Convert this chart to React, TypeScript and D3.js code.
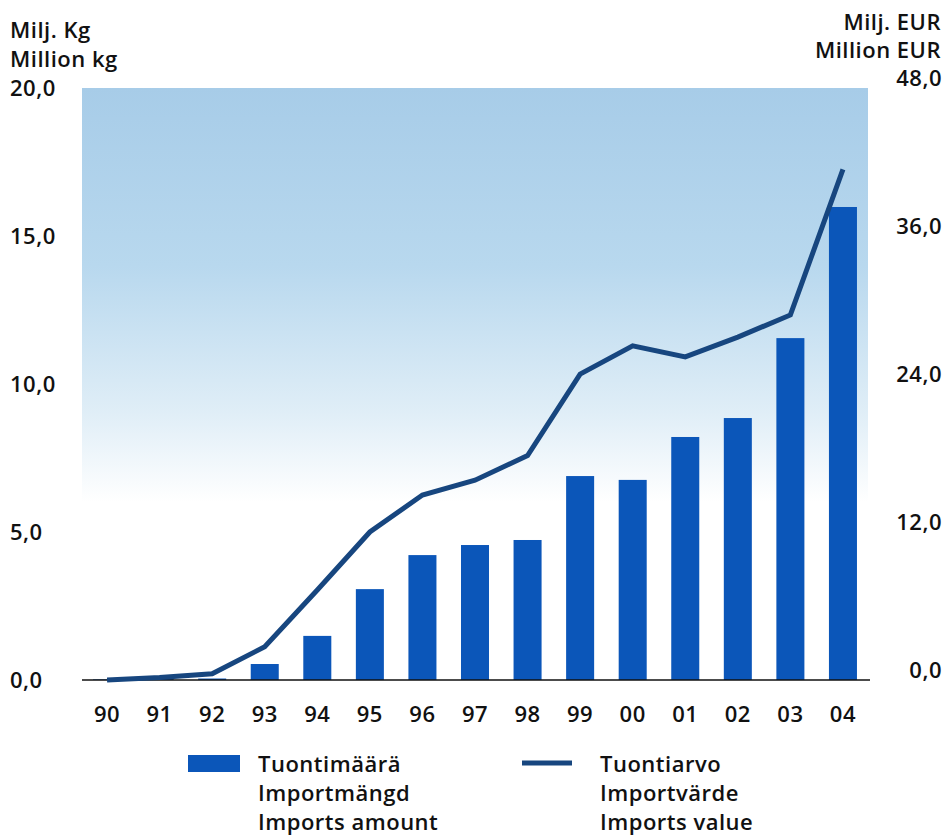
import React from 'react';
import * as d3 from 'd3';

// years on the x axis
const years = ['90', '91', '92', '93', '94', '95', '96', '97', '98', '99', '00', '01', '02', '03', '04'];
// imports amount, million kg (left axis)
const amountKg = [0.02, 0.03, 0.05, 0.54, 1.49, 3.07, 4.22, 4.56, 4.73, 6.89, 6.76, 8.21, 8.85, 11.55, 15.98];
// imports value, million EUR (right axis)
const valueEur = [0.0, 0.2, 0.5, 2.7, 7.3, 12.0, 15.0, 16.2, 18.2, 24.8, 27.1, 26.2, 27.8, 29.6, 41.4];

const leftTicks = [0, 5, 10, 15, 20];
const rightTicks = [0, 12, 24, 36, 48];

const W = 947;
const H = 838;
const plot = { left: 82, right: 868, top: 88, bottom: 680 };
const FONT = "'Open Sans', 'Noto Sans', sans-serif";

const fmt = (v: number) => v.toFixed(1).replace('.', ',');

const App: React.FC = () => {
  const x = d3.scaleBand<string>()
    .domain(years)
    .range([plot.left, plot.right])
    .paddingInner(0.467)
    .paddingOuter(0.21);

  const yLeft = d3.scaleLinear().domain([0, 20]).range([plot.bottom, plot.top]);
  const yRight = d3.scaleLinear().domain([0, 48]).range([plot.bottom, plot.top]);

  const line = d3.line<number>()
    .x((_, i) => (x(years[i]) as number) + x.bandwidth() / 2)
    .y(d => yRight(d));

  const txt = { fontSize: 22, fill: '#111', fontWeight: 600, letterSpacing: 0.5 } as const;

  return (
    <div style={{ position: 'absolute', left: 0, top: 0 }}>
      <svg width={W} height={H} style={{ display: 'block', background: '#fff' }} fontFamily={FONT}>
        <defs>
          <linearGradient id="bg" x1="0" y1="0" x2="0" y2="1">
            <stop offset="0%" stopColor="#a7cce8" />
            <stop offset="30%" stopColor="#b8d8ee" />
            <stop offset="55%" stopColor="#e0eef7" />
            <stop offset="70%" stopColor="#ffffff" />
            <stop offset="100%" stopColor="#ffffff" />
          </linearGradient>
        </defs>

        <rect x={plot.left} y={plot.top} width={plot.right - plot.left} height={plot.bottom - plot.top} fill="url(#bg)" />

        {/* axis titles */}
        <text x={10} y={38} {...txt}>Milj. Kg</text>
        <text x={10} y={67} {...txt}>Million kg</text>
        <text x={941} y={30} {...txt} textAnchor="end">Milj. EUR</text>
        <text x={941} y={58} {...txt} textAnchor="end">Million EUR</text>

        {/* left ticks */}
        {leftTicks.map(t => (
          <text key={'l' + t} x={10} y={yLeft(t) + 8} {...txt}>{fmt(t)}</text>
        ))}
        {/* right ticks */}
        {rightTicks.map(t => (
          <text key={'r' + t} x={942} y={yRight(t) - 2} {...txt} textAnchor="end">{fmt(t)}</text>
        ))}

        {/* bars */}
        {amountKg.map((v, i) => (
          <rect
            key={years[i]}
            x={x(years[i])}
            y={yLeft(v)}
            width={x.bandwidth()}
            height={plot.bottom - yLeft(v)}
            fill="#0b56b9"
          />
        ))}

        {/* baseline */}
        <line x1={plot.left} x2={plot.right + 2} y1={plot.bottom} y2={plot.bottom} stroke="#111" strokeWidth={1.6} />

        {/* value line */}
        <path d={line(valueEur) || ''} fill="none" stroke="#17467f" strokeWidth={5} strokeLinejoin="miter" />

        {/* x labels */}
        {years.map(y => (
          <text key={'x' + y} x={(x(y) as number) + x.bandwidth() / 2} y={722} {...txt} textAnchor="middle">{y}</text>
        ))}

        {/* legend */}
        <rect x={188} y={755} width={52} height={17} fill="#0b56b9" />
        <text {...txt}>
          <tspan x={258} y={772}>Tuontimäärä</tspan>
          <tspan x={258} y={801}>Importmängd</tspan>
          <tspan x={258} y={830}>Imports amount</tspan>
        </text>
        <line x1={522} x2={572} y1={763} y2={763} stroke="#17467f" strokeWidth={5} />
        <text {...txt}>
          <tspan x={600} y={772}>Tuontiarvo</tspan>
          <tspan x={600} y={801}>Importvärde</tspan>
          <tspan x={600} y={830}>Imports value</tspan>
        </text>
      </svg>
    </div>
  );
};

export default App;
